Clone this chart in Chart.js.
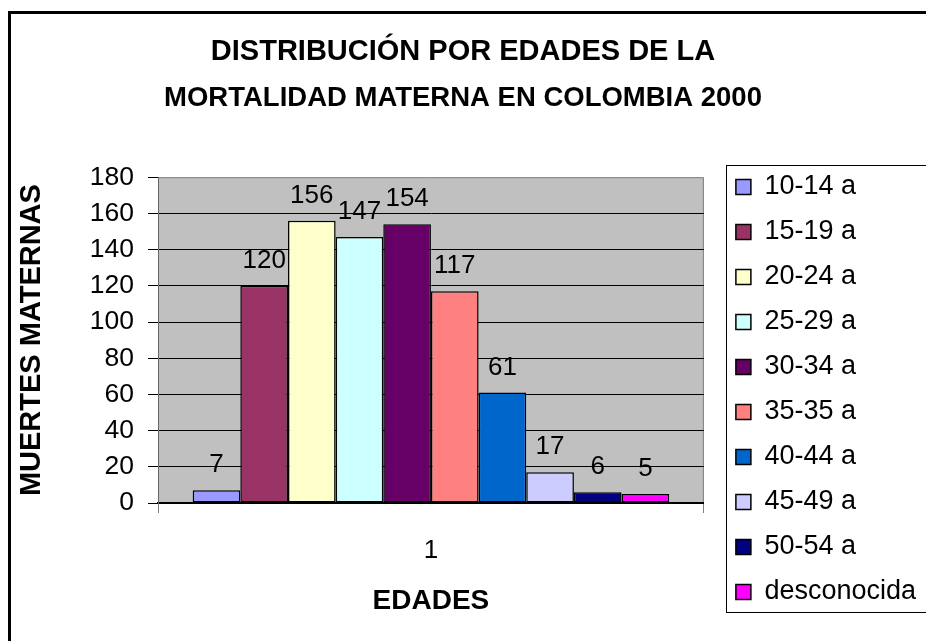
<!DOCTYPE html>
<html>
<head>
<meta charset="utf-8">
<script src="https://cdn.jsdelivr.net/npm/chart.js@4.4.1/dist/chart.umd.min.js"></script>
<style>
  html, body { margin: 0; padding: 0; background: #fff; overflow: hidden; }
  #wrap { width: 926px; height: 641px; position: relative; }
</style>
</head>
<body>
<div id="wrap"><canvas id="chart"></canvas></div>
<script>
// data
const categories = ['1'];
const ageGroups = ['10-14 a', '15-19 a', '20-24 a', '25-29 a', '30-34 a',
                   '35-35 a', '40-44 a', '45-49 a', '50-54 a', 'desconocida'];
const deaths = [7, 120, 156, 147, 154, 117, 61, 17, 6, 5];
const yMin = 0, yMax = 180, yStep = 20;

const titleLine1 = 'DISTRIBUCIÓN POR EDADES DE LA';
const titleLine2 = 'MORTALIDAD MATERNA EN COLOMBIA 2000';
const yTitle = 'MUERTES MATERNAS';
const xTitle = 'EDADES';

// excel 97 palette
const barColors = ['#9999FF', '#993366', '#FFFFCC', '#CCFFFF', '#660066',
                   '#FF8080', '#0066CC', '#CCCCFF', '#000080', '#FF00FF'];

const FONT = '"Liberation Sans", Arial, sans-serif';

// ---------- plugins ----------
const frame = {
  id: 'frame',
  beforeDraw(chart) {
    const {ctx, chartArea: a} = chart;
    ctx.save();
    // outer chart border (runs off the right / bottom)
    ctx.strokeStyle = '#000';
    ctx.lineWidth = 3;
    ctx.strokeRect(9.5, 12.5, chart.width + 20, chart.height + 20);
    // gray plot area
    ctx.fillStyle = '#C0C0C0';
    ctx.fillRect(a.left, a.top, a.right - a.left, a.bottom - a.top);
    ctx.strokeStyle = '#808080';
    ctx.lineWidth = 1;
    ctx.beginPath();
    ctx.moveTo(a.left, a.top + 0.5);
    ctx.lineTo(a.right - 0.5, a.top + 0.5);
    ctx.lineTo(a.right - 0.5, a.bottom);
    ctx.stroke();
    ctx.restore();
  },
  afterDraw(chart) {
    // box round the legend
    const hb = chart.legend.legendHitBoxes;
    if (!hb || !hb.length) return;
    const {ctx} = chart;
    const last = hb[hb.length - 1];
    const left = hb[0].left - 10;
    const top = hb[0].top - 8.5;
    const bottom = last.top + last.height + 6.5;
    ctx.save();
    ctx.strokeStyle = '#000';
    ctx.lineWidth = 1;
    ctx.strokeRect(Math.round(left) + 0.5, Math.round(top) + 0.5, chart.width + 20, Math.round(bottom - top));
    ctx.restore();
  }
};

const valueLabels = {
  id: 'valueLabels',
  afterDatasetsDraw(chart) {
    const {ctx} = chart;
    ctx.save();
    ctx.font = '26px ' + FONT;
    ctx.fillStyle = '#000';
    ctx.textAlign = 'center';
    ctx.textBaseline = 'alphabetic';
    chart.data.datasets.forEach((ds, i) => {
      const meta = chart.getDatasetMeta(i);
      meta.data.forEach((bar, j) => {
        ctx.fillText(String(ds.data[j]), bar.x, bar.y - 18);
      });
    });
    ctx.restore();
  }
};

// ---------- chart ----------
const datasets = ageGroups.map((g, i) => ({
  label: g,
  data: [deaths[i]],
  backgroundColor: barColors[i],
  borderColor: '#000',
  borderWidth: 1.5,
  borderSkipped: false
}));

new Chart(document.getElementById('chart'), {
  type: 'bar',
  data: { labels: categories, datasets },
  options: {
    responsive: true,
    maintainAspectRatio: false,
    animation: false,
    categoryPercentage: 0.873,
    barPercentage: 1,
    layout: { padding: { top: 0, left: 0, right: 0, bottom: 17.5 } },
    plugins: {
      tooltip: { enabled: false },
      title: {
        display: true,
        text: titleLine1,
        color: '#000',
        font: { family: FONT, size: 29, weight: 'bold', lineHeight: 1.2 },
        padding: { top: 34.6, bottom: 0 }
      },
      subtitle: {
        display: true,
        text: titleLine2,
        color: '#000',
        font: { family: FONT, size: 27.5, weight: 'bold', lineHeight: 1.2 },
        padding: { top: 13, bottom: 61.8 }
      },
      legend: {
        position: 'right',
        align: 'end',
        maxWidth: 209,
        labels: {
          color: '#000',
          font: { family: FONT, size: 27 },
          boxWidth: 15,
          boxHeight: 15,
          padding: 18
        }
      }
    },
    scales: {
      x: {
        grid: {
          display: true, drawOnChartArea: false, drawTicks: true,
          tickLength: 10, color: '#808080', offset: true
        },
        border: { display: true, color: '#000', width: 2 },
        ticks: { color: '#000', font: { family: FONT, size: 26 }, padding: 22 },
        title: {
          display: true, text: xTitle, color: '#000',
          font: { family: FONT, size: 28, weight: 'bold', lineHeight: 1.2 },
          padding: { top: 0, bottom: 5 }
        },
        afterFit(s) { s.height = 120.5; }
      },
      y: {
        min: yMin,
        max: yMax,
        ticks: { stepSize: yStep, color: '#000', font: { family: FONT, size: 26.5 }, padding: 14 },
        grid: {
          color: c => (c.tick && c.tick.value === yMax ? 'rgba(0,0,0,0)' : '#000'),
          tickColor: '#000',
          tickLength: 10,
          lineWidth: 1
        },
        border: { display: true, color: '#666', width: 1 },
        title: {
          display: true, text: yTitle, color: '#000',
          font: { family: FONT, size: 29, weight: 'bold', lineHeight: 1.2 },
          padding: { top: 15, bottom: 0 }
        },
        afterFit(s) { s.width = 158; }
      },
      gap: {
        position: 'right',
        type: 'linear',
        display: true,
        grid: { display: false },
        border: { display: false },
        ticks: { display: false },
        afterFit(s) { s.width = 14; }
      }
    }
  },
  plugins: [frame, valueLabels]
});
</script>
</body>
</html>
